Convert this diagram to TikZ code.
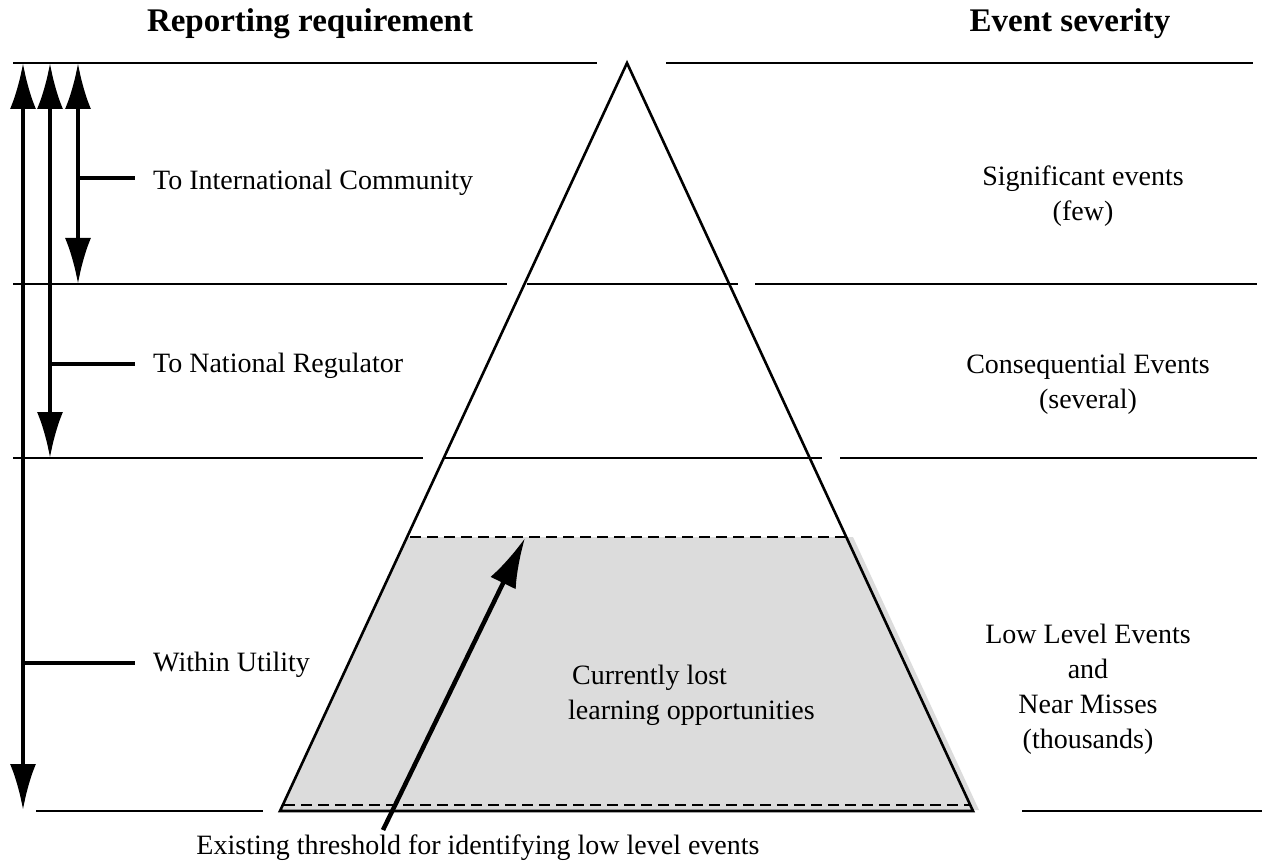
\documentclass[tikz,border=0pt]{standalone}
\usepackage{fontspec}
\setmainfont{Liberation Serif}
\usetikzlibrary{arrows.meta,positioning}
\definecolor{lostgray}{HTML}{DCDCDC}

\begin{document}
\begin{tikzpicture}[x=1pt,y=-1pt,
    rule/.style={line width=2.6pt},
    cutoff/.style={line width=2.6pt, dash pattern=on 11pt off 6pt},
    span/.style={line width=4pt, {Latex[length=46pt,width=26pt]}-{Latex[length=46pt,width=26pt]}},
    tick/.style={line width=4.5pt},
    lbl/.style={font=\fontsize{28}{35}\selectfont, inner sep=0pt},
    head/.style={font=\fontsize{33}{38}\selectfont\bfseries, inner sep=0pt}]
  \useasboundingbox (0,0) rectangle (1265,866);

  % shaded band below the threshold
  \fill[lostgray] (407,537) -- (853,537) -- (979,810) -- (280,810) -- cycle;

  % pyramid
  \draw[rule, line join=miter] (280,811) -- (627,63) -- (973,811) -- cycle;
  \draw[cutoff] (410,537) -- (850,537);
  \draw[cutoff] (284,805) -- (970,805);

  % level rules
  \draw[rule] (13,63) -- (597,63);
  \draw[rule] (666,63) -- (1253,63);
  \draw[rule] (13,284) -- (507,284);
  \draw[rule] (527,284) -- (738,284);
  \draw[rule] (755,284) -- (1257,284);
  \draw[rule] (13,458) -- (423,458);
  \draw[rule] (443,458) -- (822,458);
  \draw[rule] (840,458) -- (1257,458);
  \draw[rule] (36,811) -- (263,811);
  \draw[rule] (1022,811) -- (1262,811);

  % headings
  \node[head] (repreq) at (310,24) {Reporting requirement};
  \node[head] (evsev) at (1070,24) {Event severity};

  % reporting spans
  \coordinate (utilt) at (23,63);
  \coordinate (utilb) at (23,810);
  \coordinate (natlt) at (50,63);
  \coordinate (natlb) at (50,458);
  \coordinate (intlt) at (78,63);
  \coordinate (intlb) at (78,284);
  \draw[span] (utilt) -- (utilb);
  \draw[span] (natlt) -- (natlb);
  \draw[span] (intlt) -- (intlb);

  \node[lbl, anchor=west] (intl) at (153,183) {To International Community};
  \node[lbl, anchor=west] (natl) at (153,366) {To National Regulator};
  \node[lbl, anchor=west] (util) at (153,665) {Within Utility};
  \coordinate (intlj) at (78,178);
  \coordinate (natlj) at (50,364);
  \coordinate (utilj) at (21,663);
  \draw[tick] (intlj) -- ([xshift=-18pt]intl.west |- intlj);
  \draw[tick] (natlj) -- ([xshift=-18pt]natl.west |- natlj);
  \draw[tick] (utilj) -- ([xshift=-18pt]util.west |- utilj);

  % severity classes
  \node[lbl, align=center] (sig) at (1083,196) {Significant events\\(few)};
  \node[lbl, align=center] (cons) at (1088,384) {Consequential Events\\(several)};
  \node[lbl, align=center] (low) at (1088,689) {Low Level Events\\and\\Near Misses\\(thousands)};

  % lost learning
  \node[lbl, anchor=west] (lost) at (572,678) {Currently lost};
  \node[lbl, anchor=west] (learn) at (568,713) {learning opportunities};

  % threshold
  \node[lbl] (thresh) at (478,848) {Existing threshold for identifying low level events};
  \coordinate (thtail) at (383,830);
  \coordinate (thtip) at (525,538);
  \draw[line width=4.5pt, -{Latex[length=50pt,width=28pt]}] (thtail) -- (thtip);
\end{tikzpicture}
\end{document}
